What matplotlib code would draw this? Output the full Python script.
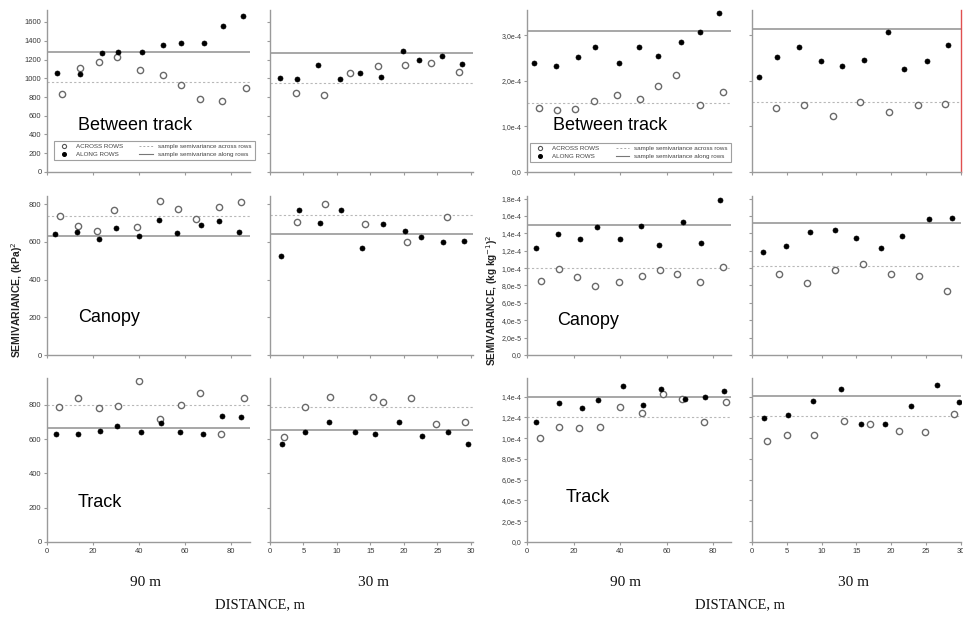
import matplotlib
matplotlib.use("Agg")
import matplotlib.pyplot as plt
from matplotlib.lines import Line2D

# ---------------- DATA (left group: (kPa)^2) ----------------
# Between track, 90 m
k_bt90_along_x = [4.5, 14.3, 23.8, 31.0, 41.4, 50.3, 58.3, 68.4, 76.7, 85.1]
k_bt90_along_y = [1055, 1042, 1266, 1283, 1283, 1360, 1380, 1380, 1557, 1667]
k_bt90_across_x = [6.5, 14.3, 22.5, 30.3, 40.4, 50.3, 58.3, 66.5, 76.2, 86.5]
k_bt90_across_y = [832, 1109, 1173, 1230, 1088, 1031, 931, 779, 757, 899]
k_bt90_sill = [1283, 963]          # along, across
# Between track, 30 m
k_bt30_along_x = [1.5, 4.1, 7.2, 10.4, 13.5, 16.6, 19.9, 22.3, 25.6, 28.7]
k_bt30_along_y = [1003, 989, 1141, 989, 1056, 1013, 1291, 1191, 1241, 1156]
k_bt30_across_x = [3.9, 8.0, 12.0, 16.1, 20.1, 24.1, 28.2]
k_bt30_across_y = [839, 825, 1056, 1134, 1145, 1159, 1070]
k_bt30_sill = [1273, 953]
# Canopy, 90 m
k_ca90_along_x = [3.6, 13.2, 22.6, 30.0, 40.1, 48.8, 56.7, 66.8, 74.9, 83.3]
k_ca90_along_y = [642, 651, 614, 672, 633, 716, 646, 688, 709, 651]
k_ca90_across_x = [5.7, 13.5, 21.6, 29.3, 39.1, 49.1, 57.0, 64.9, 74.6, 84.5]
k_ca90_across_y = [739, 686, 660, 769, 677, 817, 775, 721, 783, 810]
k_ca90_sill = [633, 739]
# Canopy, 30 m
k_ca30_along_x = [1.7, 4.3, 7.4, 10.6, 13.7, 16.8, 20.1, 22.6, 25.8, 28.9]
k_ca30_along_y = [525, 769, 702, 769, 569, 695, 656, 624, 598, 605]
k_ca30_across_x = [4.0, 8.2, 14.2, 20.4, 26.4]
k_ca30_across_y = [707, 799, 695, 598, 732]
k_ca30_sill = [640, 744]
# Track, 90 m
k_tr90_along_x = [3.9, 13.6, 23.0, 30.3, 40.9, 49.7, 57.8, 68.0, 76.2, 84.6]
k_tr90_along_y = [630, 630, 647, 676, 641, 692, 641, 630, 735, 727]
k_tr90_across_x = [5.2, 13.5, 22.5, 31.0, 39.9, 49.1, 58.1, 66.5, 75.8, 85.7]
k_tr90_across_y = [789, 841, 779, 793, 939, 715, 800, 867, 632, 841]
k_tr90_sill = [666, 797]
# Track, 30 m
k_tr30_along_x = [1.8, 5.2, 8.8, 12.7, 15.6, 19.2, 22.7, 26.5, 29.6]
k_tr30_along_y = [570, 639, 700, 639, 628, 698, 618, 639, 570]
k_tr30_across_x = [2.1, 5.2, 9.0, 15.3, 16.8, 21.1, 24.8, 29.1]
k_tr30_across_y = [614, 789, 847, 847, 818, 838, 688, 700]
k_tr30_sill = [653, 785]

# ---------------- DATA (right group: (kg kg-1)^2) ----------------
w_bt90_along_x = [3.0, 12.6, 21.9, 29.2, 39.6, 48.3, 56.1, 66.2, 74.3, 82.4]
w_bt90_along_y = [2.40e-4, 2.34e-4, 2.52e-4, 2.74e-4, 2.39e-4, 2.74e-4, 2.56e-4, 2.86e-4, 3.07e-4, 3.49e-4]
w_bt90_across_x = [5.0, 12.9, 20.8, 28.7, 38.6, 48.5, 56.3, 64.1, 74.1, 84.0]
w_bt90_across_y = [1.41e-4, 1.36e-4, 1.39e-4, 1.57e-4, 1.70e-4, 1.61e-4, 1.88e-4, 2.14e-4, 1.48e-4, 1.75e-4]
w_bt90_sill = [3.09e-4, 1.52e-4]
w_bt30_along_x = [1.0, 3.6, 6.7, 9.9, 13.0, 16.1, 19.6, 21.9, 25.2, 28.2]
w_bt30_along_y = [2.08e-4, 2.52e-4, 2.74e-4, 2.43e-4, 2.34e-4, 2.46e-4, 3.07e-4, 2.26e-4, 2.43e-4, 2.78e-4]
w_bt30_across_x = [3.4, 7.5, 11.6, 15.6, 19.7, 23.8, 27.8]
w_bt30_across_y = [1.41e-4, 1.48e-4, 1.23e-4, 1.53e-4, 1.32e-4, 1.47e-4, 1.50e-4]
w_bt30_sill = [3.14e-4, 1.53e-4]
w_ca90_along_x = [3.9, 13.5, 22.8, 30.0, 40.0, 48.9, 56.6, 66.8, 74.7, 83.0]
w_ca90_along_y = [1.23e-4, 1.39e-4, 1.34e-4, 1.47e-4, 1.34e-4, 1.48e-4, 1.27e-4, 1.53e-4, 1.29e-4, 1.78e-4]
w_ca90_across_x = [5.9, 13.8, 21.6, 29.4, 39.3, 49.2, 56.9, 64.6, 74.3, 84.2]
w_ca90_across_y = [8.55e-5, 9.9e-5, 8.97e-5, 7.9e-5, 8.44e-5, 9.12e-5, 9.77e-5, 9.27e-5, 8.44e-5, 1.01e-4]
w_ca90_sill = [1.50e-4, 1.00e-4]
w_ca30_along_x = [1.6, 4.9, 8.4, 11.9, 14.9, 18.5, 21.6, 25.5, 28.7]
w_ca30_along_y = [1.18e-4, 1.25e-4, 1.42e-4, 1.44e-4, 1.35e-4, 1.23e-4, 1.37e-4, 1.56e-4, 1.58e-4]
w_ca30_across_x = [3.9, 7.9, 12.0, 16.0, 20.0, 24.0, 28.1]
w_ca30_across_y = [9.35e-5, 8.24e-5, 9.8e-5, 1.05e-4, 9.35e-5, 9.09e-5, 7.41e-5]
w_ca30_sill = [1.52e-4, 1.02e-4]
w_tr90_along_x = [4.0, 13.8, 23.5, 30.7, 41.2, 49.9, 57.6, 68.0, 76.4, 84.7]
w_tr90_along_y = [1.16e-4, 1.34e-4, 1.29e-4, 1.37e-4, 1.50e-4, 1.32e-4, 1.475e-4, 1.38e-4, 1.395e-4, 1.456e-4]
w_tr90_across_x = [5.5, 13.8, 22.5, 31.3, 40.1, 49.5, 58.4, 66.5, 76.0, 85.6]
w_tr90_across_y = [1.005e-4, 1.104e-4, 1.094e-4, 1.104e-4, 1.305e-4, 1.245e-4, 1.43e-4, 1.38e-4, 1.16e-4, 1.35e-4]
w_tr90_sill = [1.40e-4, 1.20e-4]
w_tr30_along_x = [1.7, 5.2, 8.8, 12.8, 15.7, 19.1, 22.9, 26.6, 29.7]
w_tr30_along_y = [1.19e-4, 1.22e-4, 1.36e-4, 1.47e-4, 1.14e-4, 1.14e-4, 1.31e-4, 1.51e-4, 1.35e-4]
w_tr30_across_x = [2.1, 5.1, 8.9, 13.2, 16.9, 21.1, 24.9, 29.1]
w_tr30_across_y = [9.73e-5, 1.03e-4, 1.035e-4, 1.168e-4, 1.14e-4, 1.065e-4, 1.055e-4, 1.235e-4]
w_tr30_sill = [1.41e-4, 1.21e-4]

# tick labels
x90_ticks = [0, 20, 40, 60, 80]
x30_ticks = [0, 5, 10, 15, 20, 25, 30]
k_bt_yticks = [0, 200, 400, 600, 800, 1000, 1200, 1400, 1600]
k_ca_yticks = [0, 200, 400, 600, 800]
k_tr_yticks = [0, 200, 400, 600, 800]
w_bt_yticks = [0, 1e-4, 2e-4, 3e-4]
w_bt_ylabels = ["0,0", "1,0e-4", "2,0e-4", "3,0e-4"]
w_ca_yticks = [0, 2e-5, 4e-5, 6e-5, 8e-5, 1e-4, 1.2e-4, 1.4e-4, 1.6e-4, 1.8e-4]
w_ca_ylabels = ["0,0", "2,0e-5", "4,0e-5", "6,0e-5", "8,0e-5", "1,0e-4", "1,2e-4", "1,4e-4", "1,6e-4", "1,8e-4"]
w_tr_yticks = [0, 2e-5, 4e-5, 6e-5, 8e-5, 1e-4, 1.2e-4, 1.4e-4]
w_tr_ylabels = ["0,0", "2,0e-5", "4,0e-5", "6,0e-5", "8,0e-5", "1,0e-4", "1,2e-4", "1,4e-4"]
row_titles = ["Between track", "Canopy", "Track"]
col_titles = ["90 m", "30 m"]

# ---------------- LAYOUT ----------------
W, H = 963, 620
fig = plt.figure(figsize=(W / 100, H / 100), dpi=100)
plt.rcParams['font.family'] = ['Liberation Sans', 'DejaVu Sans']

cols_px = {"k90": (47, 250), "k30": (270, 473), "w90": (527, 731), "w30": (752, 961)}
rows_px = [(10, 172), (196, 355), (378, 542)]


def make_ax(col, row):
    x0, x1 = cols_px[col]
    y0, y1 = rows_px[row]
    return fig.add_axes([x0 / W, 1 - y1 / H, (x1 - x0) / W, (y1 - y0) / H])


SPINE = "#9a9a9a"
TXT = "#3a3a3a"


def style(ax, xlim, ylim, xt, yt, ylabels, show_xlabels, show_ylabels, ysize=5.5):
    ax.set_xlim(*xlim)
    ax.set_ylim(*ylim)
    for s in ["top", "right"]:
        ax.spines[s].set_visible(False)
    for s in ["left", "bottom"]:
        ax.spines[s].set_color(SPINE)
        ax.spines[s].set_linewidth(1.0)
    ax.set_xticks(xt)
    ax.set_yticks(yt)
    ax.tick_params(length=2.5, width=0.8, color=SPINE, labelsize=5.5,
                   labelcolor=TXT, pad=2)
    ax.tick_params(axis="y", labelsize=ysize, pad=1.5)
    if show_xlabels:
        ax.set_xticklabels([str(v) for v in xt])
    else:
        ax.set_xticklabels([])
    if show_ylabels:
        ax.set_yticklabels(ylabels)
    else:
        ax.set_yticklabels([])


def plot_panel(ax, ax_x, ax_y, ac_x, ac_y, sill):
    ax.axhline(sill[0], color="#a0a0a0", lw=1.3, zorder=1)
    ax.axhline(sill[1], color="#b8b8b8", lw=0.8, ls=(0, (2, 2)), zorder=1)
    ax.plot(ac_x, ac_y, ls="none", marker="o", ms=4.5, mfc="white",
            mec="#6a6a6a", mew=1.0, zorder=3)
    ax.plot(ax_x, ax_y, ls="none", marker="o", ms=3.6, mfc="black",
            mec="black", mew=0.5, zorder=4)


def add_legend(ax, bbox):
    handles = [
        Line2D([], [], ls="none", marker="o", ms=3, mfc="white", mec="#555", mew=0.8),
        Line2D([], [], ls="none", marker="o", ms=2.6, mfc="black", mec="black"),
        Line2D([], [], color="#aaa", lw=0.7, ls=(0, (2, 2))),
        Line2D([], [], color="#777", lw=0.8),
    ]
    labels = ["ACROSS ROWS", "ALONG ROWS",
              "sample semivariance across rows", "sample semivariance along rows"]
    leg = ax.legend(handles, labels, loc="lower left", bbox_to_anchor=bbox,
                    mode="expand", ncol=2, fontsize=4.5, frameon=True,
                    fancybox=False, edgecolor="#888", handlelength=2.2,
                    handletextpad=0.8, borderpad=0.5, labelspacing=0.35,
                    borderaxespad=0)
    leg.get_frame().set_linewidth(0.8)
    for t in leg.get_texts():
        t.set_color("#444")


k_ylims = [(0, 1728), (0, 843), (0, 956)]
w_ylims = [(0, 3.56e-4), (0, 1.83e-4), (0, 1.58e-4)]
k_yt = [k_bt_yticks, k_ca_yticks, k_tr_yticks]
w_yt = [w_bt_yticks, w_ca_yticks, w_tr_yticks]
w_yl = [w_bt_ylabels, w_ca_ylabels, w_tr_ylabels]

k_data = [
    [(k_bt90_along_x, k_bt90_along_y, k_bt90_across_x, k_bt90_across_y, k_bt90_sill),
     (k_bt30_along_x, k_bt30_along_y, k_bt30_across_x, k_bt30_across_y, k_bt30_sill)],
    [(k_ca90_along_x, k_ca90_along_y, k_ca90_across_x, k_ca90_across_y, k_ca90_sill),
     (k_ca30_along_x, k_ca30_along_y, k_ca30_across_x, k_ca30_across_y, k_ca30_sill)],
    [(k_tr90_along_x, k_tr90_along_y, k_tr90_across_x, k_tr90_across_y, k_tr90_sill),
     (k_tr30_along_x, k_tr30_along_y, k_tr30_across_x, k_tr30_across_y, k_tr30_sill)],
]
w_data = [
    [(w_bt90_along_x, w_bt90_along_y, w_bt90_across_x, w_bt90_across_y, w_bt90_sill),
     (w_bt30_along_x, w_bt30_along_y, w_bt30_across_x, w_bt30_across_y, w_bt30_sill)],
    [(w_ca90_along_x, w_ca90_along_y, w_ca90_across_x, w_ca90_across_y, w_ca90_sill),
     (w_ca30_along_x, w_ca30_along_y, w_ca30_across_x, w_ca30_across_y, w_ca30_sill)],
    [(w_tr90_along_x, w_tr90_along_y, w_tr90_across_x, w_tr90_across_y, w_tr90_sill),
     (w_tr30_along_x, w_tr30_along_y, w_tr30_across_x, w_tr30_across_y, w_tr30_sill)],
]

k_label_pos = [(0.153, 0.29), (0.153, 0.233), (0.153, 0.238)]
w_label_pos = [(0.128, 0.29), (0.147, 0.22), (0.19, 0.274)]

for r in range(3):
    # left group
    a90 = make_ax("k90", r)
    plot_panel(a90, *k_data[r][0])
    style(a90, (0, 88.3), k_ylims[r], x90_ticks, k_yt[r],
          [str(v) for v in k_yt[r]], r == 2, True)
    a90.text(*k_label_pos[r], row_titles[r], transform=a90.transAxes,
             fontsize=13, va="center", ha="left", color="black")
    a30 = make_ax("k30", r)
    plot_panel(a30, *k_data[r][1])
    style(a30, (0, 30.3), k_ylims[r], x30_ticks, k_yt[r], None, r == 2, False)
    if r == 0:
        add_legend(a90, (0.034, 0.074, 0.99, 0.161))

    # right group
    b90 = make_ax("w90", r)
    plot_panel(b90, *w_data[r][0])
    style(b90, (0, 87.6), w_ylims[r], x90_ticks, w_yt[r], w_yl[r], r == 2, True,
          ysize=5.0)
    b90.text(*w_label_pos[r], row_titles[r], transform=b90.transAxes,
             fontsize=13, va="center", ha="left", color="black")
    b30 = make_ax("w30", r)
    plot_panel(b30, *w_data[r][1])
    style(b30, (0, 30.05), w_ylims[r], x30_ticks, w_yt[r], None, r == 2, False)
    if r == 0:
        add_legend(b90, (0.015, 0.0625, 0.985, 0.158))
        b30.spines["right"].set_visible(True)
        b30.spines["right"].set_color("#e05050")
        b30.spines["right"].set_linewidth(1.0)

# axis titles
fig.text(17 / W, 1 - 300 / H, r"SEMIVARIANCE, (kPa)$^2$", rotation=90,
         fontsize=7.5, fontweight="bold", ha="center", va="center", color="#222")
fig.text(492 / W, 1 - 300 / H, r"SEMIVARIANCE, (kg kg$^{-1}$)$^2$", rotation=90,
         fontsize=7.2, fontweight="bold", ha="center", va="center", color="#222")

serif = ['Liberation Serif', 'DejaVu Serif']
for cx, t in [(145, col_titles[0]), (373, col_titles[1]),
              (625, col_titles[0]), (853, col_titles[1])]:
    fig.text(cx / W, 1 - 582 / H, t, fontsize=11, family=serif,
             ha="center", va="center", color="#111")
for cx in [260, 740]:
    fig.text(cx / W, 1 - 605 / H, "DISTANCE, m", fontsize=10.5, family=serif,
             ha="center", va="center", color="#111")

fig.savefig("out.png", dpi=100, facecolor="white")
